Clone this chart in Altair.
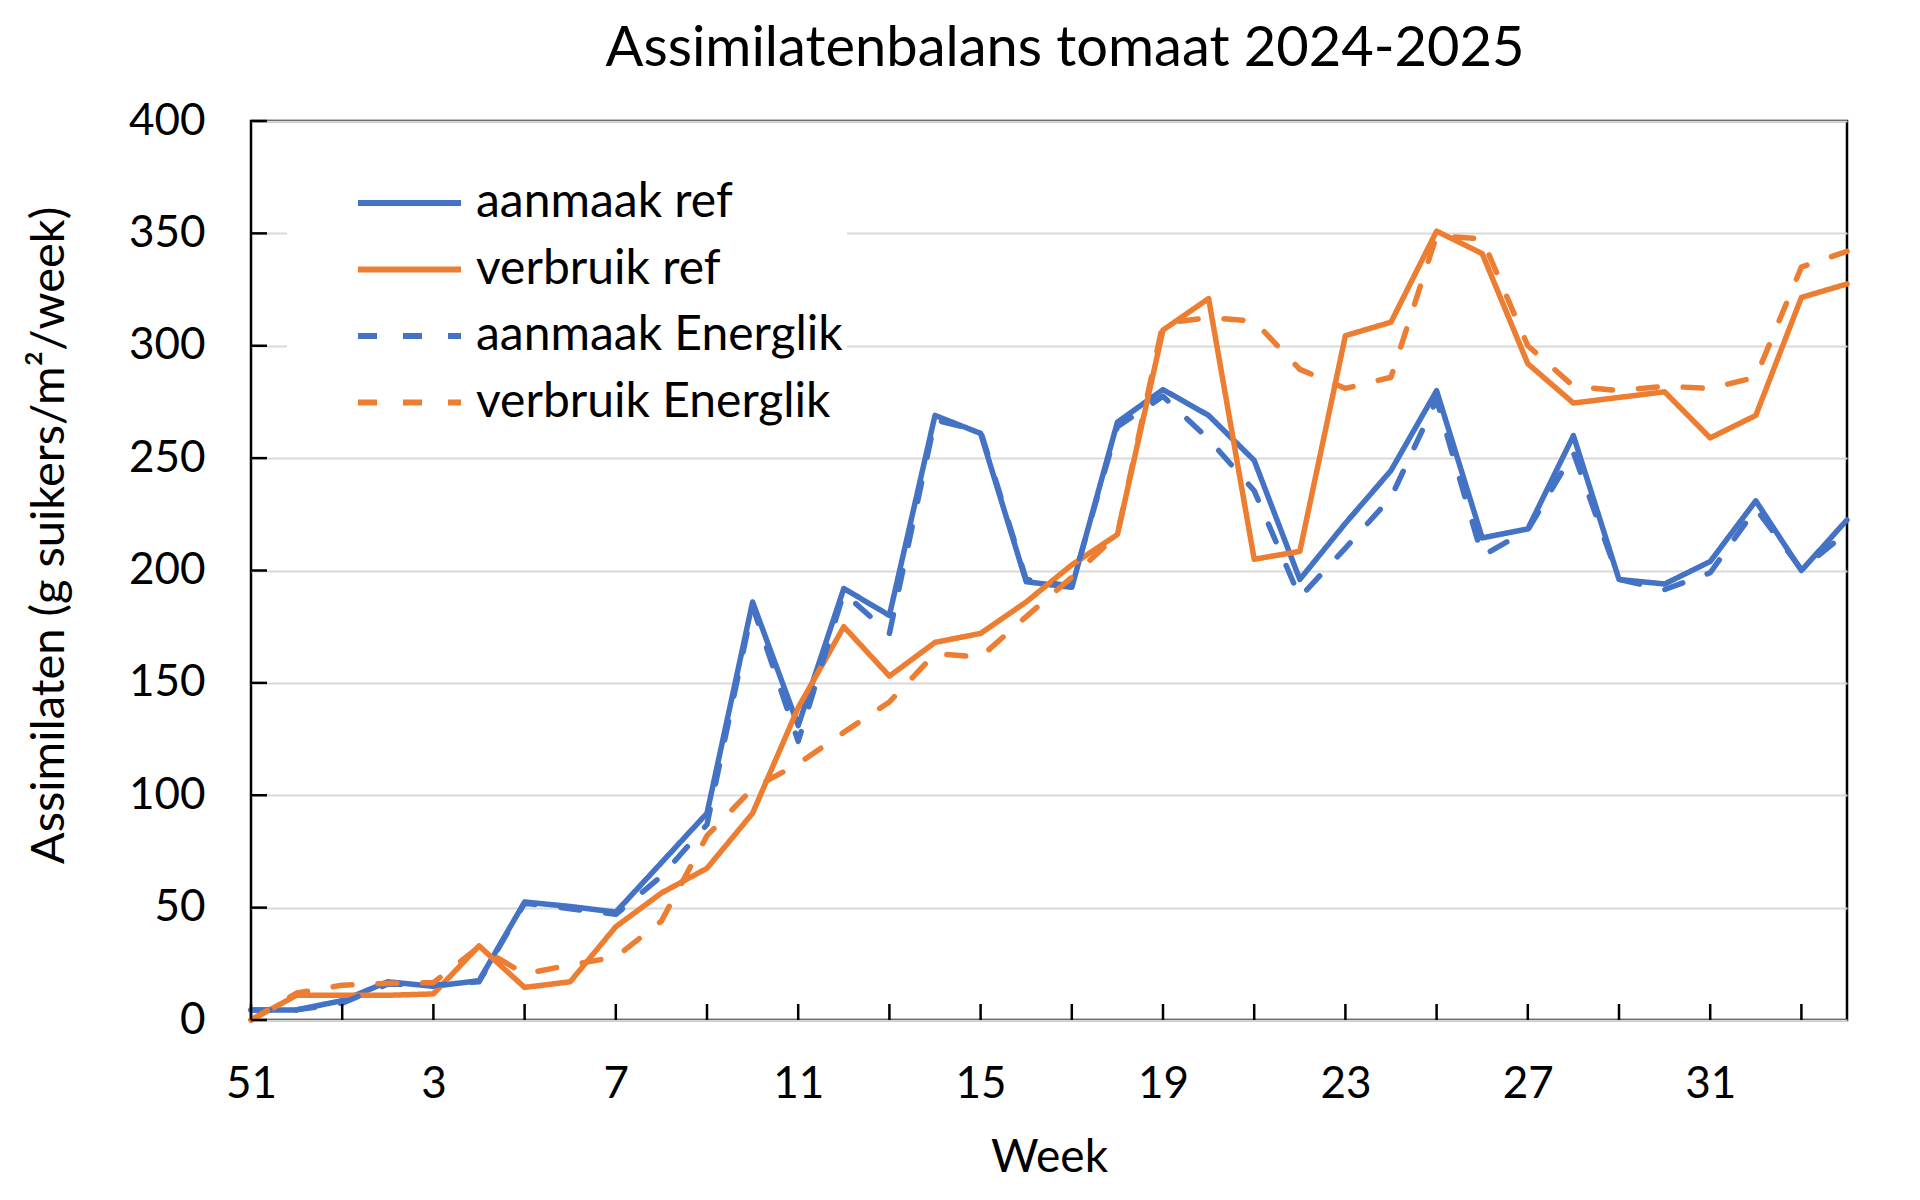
import altair as alt
import pandas as pd

# Week categories (x axis), in order
weeks = [51, 52, 1, 2, 3, 4, 5, 6, 7, 8, 9, 10, 11, 12, 13, 14, 15, 16, 17, 18,
         19, 20, 21, 22, 23, 24, 25, 26, 27, 28, 29, 30, 31, 32, 33, 34]

aanmaak_ref = [4.5, 4.5, 8.6, 17, 15, 17.5, 52.5, 50.5, 48, 70, 92, 186, 131, 192, 180,
               269, 261, 195, 192.5, 266, 280.5, 269, 249, 196, 221, 244.5, 280, 214.5,
               218.5, 260, 196, 194, 204, 231, 200, 222.5]
verbruik_ref = [0, 11, 11, 11, 11.6, 33, 14.5, 17, 41.5, 56.5, 67.5, 92, 139, 175, 153,
                168, 172, 186, 202.5, 216, 307, 321, 205, 208.5, 304.5, 310.5, 351, 341,
                292, 274.5, 277, 279.5, 259, 269, 321.5, 327.5]
aanmaak_energlik = [4.5, 4.5, 7.5, 16, 15.5, 17, 52, 49.5, 47, 64, 87, 184, 124, 190, 172,
                    267, 262, 196, 193, 264, 277.5, 258.5, 235.5, 188, 210, 232.5, 276,
                    206.5, 218, 252.5, 196, 191.5, 199, 227.5, 200.5, 217]
verbruik_energlik = [0, 12, 15.5, 16.3, 16.6, 32.5, 20.5, 24.5, 28, 44, 82, 103, 114, 128,
                     141.5, 163, 161.5, 179.5, 197, 216, 310, 312.5, 311, 289.5, 281, 286,
                     349, 347.5, 300, 282, 280, 282, 281, 286, 335, 342]

series_names = ["aanmaak ref", "verbruik ref", "aanmaak Energlik", "verbruik Energlik"]
series_values = [aanmaak_ref, verbruik_ref, aanmaak_energlik, verbruik_energlik]
series_colors = ["#4472C4", "#ED7D31", "#4472C4", "#ED7D31"]
series_dashes = [[1, 0], [1, 0], [19, 26], [19, 26]]

y_ticks = [0, 50, 100, 150, 200, 250, 300, 350, 400]
x_tick_pos = [0, 2, 4, 6, 8, 10, 12, 14, 16, 18, 20, 22, 24, 26, 28, 30, 32, 34]
x_label_pos = [0, 4, 8, 12, 16, 20, 24, 28, 32]

rows = []
for name, vals in zip(series_names, series_values):
    for i, (w, v) in enumerate(zip(weeks, vals)):
        rows.append({"idx": i, "week": w, "value": v, "series": name})
df = pd.DataFrame(rows)

W, H = 1596, 899
FONT = "Lato"
label_expr = "[" + ",".join(str(w) for w in weeks) + "][datum.value]"

x_scale = alt.Scale(domain=[0, len(weeks) - 1], nice=False, zero=False)
y_scale = alt.Scale(domain=[0, 400], nice=False)

x_axis = alt.Axis(values=x_label_pos, labelExpr=label_expr, grid=False, ticks=False,
                  tickSize=0, domain=False, labelFont=FONT, labelFontSize=44,
                  labelColor="black", labelPadding=64, labelBaseline="middle",
                  labelFlush=False,
                  title="Week", titleFont=FONT, titleFontSize=46,
                  titleFontWeight="normal", titleColor="black",
                  titleY=137, titleBaseline="middle")
y_axis = alt.Axis(values=y_ticks, grid=True, gridColor="#d9d9d9", gridWidth=2,
                  ticks=False, tickSize=0, domain=False, labelFont=FONT,
                  labelFontSize=44, labelColor="black", labelPadding=46,
                  title="Assimilaten (g suikers/m²/week)", titleFont=FONT,
                  titleFontSize=47, titleFontWeight="normal", titleColor="black",
                  titleX=-202, titleY=414, titleAngle=270, titleBaseline="middle")

legend = alt.Legend(
    title=None, orient="none", legendX=36, legendY=53, fillColor="white",
    padding=4, symbolType="stroke", symbolSize=10600, symbolStrokeWidth=6,
    labelFont=FONT, labelFontSize=48, labelColor="black", labelOffset=12,
    clipHeight=50, rowPadding=16.5, symbolOffset=64, labelLimit=800,
)

lines = alt.Chart(df).mark_line(strokeWidth=5.5, strokeCap="round", strokeJoin="round").encode(
    x=alt.X("idx:Q", scale=x_scale, axis=x_axis),
    y=alt.Y("value:Q", scale=y_scale, axis=y_axis),
    color=alt.Color("series:N", scale=alt.Scale(domain=series_names, range=series_colors),
                    legend=legend),
    strokeDash=alt.StrokeDash("series:N",
                              scale=alt.Scale(domain=series_names, range=series_dashes),
                              legend=legend),
)

xt = pd.DataFrame({"idx": x_tick_pos})
xticks = alt.Chart(xt).mark_rule(color="black", strokeWidth=2.5).encode(
    x=alt.X("idx:Q", scale=x_scale, axis=x_axis),
    y=alt.value(H), y2=alt.value(H - 16),
)
yt = pd.DataFrame({"value": y_ticks})
yticks = alt.Chart(yt).mark_rule(color="black", strokeWidth=2.5).encode(
    y=alt.Y("value:Q", scale=y_scale, axis=y_axis),
    x=alt.value(0), x2=alt.value(16),
)

chart = alt.layer(lines, xticks, yticks).properties(
    width=W, height=H,
    title=alt.TitleParams("Assimilatenbalans tomaat 2024-2025", font=FONT, fontSize=56,
                          fontWeight="normal", color="black", anchor="middle", dx=16,
                          baseline="alphabetic", offset=-23),
    padding={"left": 243, "top": 113, "right": 65, "bottom": 170},
    autosize=alt.AutoSizeParams(type="none"),
).configure(background="white").configure_view(stroke="black", strokeWidth=2.5)

chart.save("out.html", embed_options={"renderer": "svg", "actions": False})
